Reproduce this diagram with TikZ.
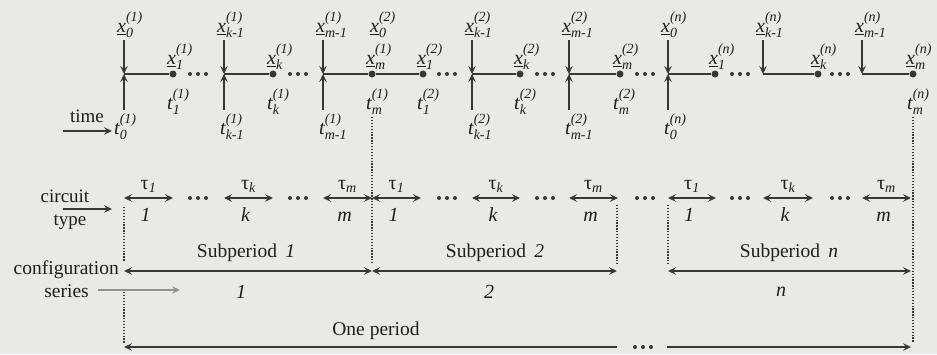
\documentclass[tikz,border=0pt]{standalone}
\usepackage{fontspec}
\usepackage{amsmath}
\setmainfont{Liberation Serif}
\usetikzlibrary{arrows.meta}
\definecolor{bg}{RGB}{233,233,231}
\definecolor{ink}{RGB}{55,55,55}
\definecolor{txt}{RGB}{30,30,30}
\newcommand\xlab[3]{$\underline{\text{\itshape #1}}_{\text{\itshape #2}}^{\raisebox{3pt}{$\scriptstyle\text{\itshape(#3)}$}}$}
\newcommand\tlab[3]{$\text{\itshape #1}_{\text{\itshape #2}}^{\raisebox{3pt}{$\scriptstyle\text{\itshape(#3)}$}}$}
\newcommand\taul[1]{$\text{τ}_{\text{\itshape #1}}$}
\tikzset{
  arr/.style={draw=ink, line width=1.6pt, -{Stealth[length=8pt,width=7.5pt,inset=3pt]}},
  darr/.style={draw=ink, line width=1.6pt, {Stealth[length=8pt,width=7.5pt,inset=3pt]}-{Stealth[length=8pt,width=7.5pt,inset=3pt]}},
  seg/.style={draw=ink, line width=1.6pt},
  dotl/.style={draw=ink, line width=1.3pt, dash pattern=on 1.3pt off 1.6pt},
  lab/.style={anchor=base west, inner sep=0pt, text=txt, font=\fontsize{20}{22}\selectfont},
  word/.style={inner sep=0pt, text=txt, font=\fontsize{19.5}{21}\selectfont},
  cword/.style={inner sep=0pt, text=txt, font=\fontsize{19}{21}\selectfont},
  dotn/.style={circle, fill=ink, inner sep=0pt, minimum size=7pt},
}
\begin{document}
\begin{tikzpicture}[x=1pt,y=-1pt]
\fill[bg] (0,0) rectangle (937,354);
\useasboundingbox (0,0) rectangle (937,354);

% junctions with vertical arrows
\foreach \n/\x in {1/124,2/224,3/323,4/472,5/569,6/668,7/763,8/862}{
  \coordinate (v\n) at (\x,74);
  \coordinate (vt\n) at (\x,40);
}
\foreach \n/\x in {1/124,2/224,3/323,4/472,5/569,6/668}{
  \coordinate (vb\n) at (\x,110);
}
% dots
\foreach \n/\x in {1/173,2/273,3/372,4/423,5/520,6/620,7/715,8/818,9/913}{
  \node[dotn] (d\n) at (\x,74) {};
}
% horizontal segments
\draw[seg] (v1) -- (d1);
\draw[seg] (v2) -- (d2);
\draw[seg] (v3) -- (d3) -- (d4);
\draw[seg] (v4) -- (d5);
\draw[seg] (v5) -- (d6);
\draw[seg] (v6) -- (d7);
\draw[seg] (v7) -- (d8);
\draw[seg] (v8) -- (d9);
% vertical arrows
\foreach \n in {1,...,8}{ \draw[arr] (vt\n) -- (v\n); }
\foreach \n in {1,...,6}{ \draw[arr] (vb\n) -- (v\n); }
% ellipses on the time line
\foreach \x in {198,298,447,545,645,740,840}{
  \fill[ink] ({\x-8},74) circle (2) (\x,74) circle (2) ({\x+8},74) circle (2);
}

% x labels above verticals
\node[lab] (lx01) at (117,32) {\xlab{x}{0}{1}};
\node[lab] (lxk1) at (217,32) {\xlab{x}{k-1}{1}};
\node[lab] (lxm1) at (316,32) {\xlab{x}{m-1}{1}};
\node[lab] (lx02) at (370,32) {\xlab{x}{0}{2}};
\node[lab] (lxk2) at (465,32) {\xlab{x}{k-1}{2}};
\node[lab] (lxm2) at (562,32) {\xlab{x}{m-1}{2}};
\node[lab] (lx0n) at (661,32) {\xlab{x}{0}{n}};
\node[lab] (lxkn) at (756,32) {\xlab{x}{k-1}{n}};
\node[lab] (lxmn) at (855,32) {\xlab{x}{m-1}{n}};
% x labels above dots
\node[lab] (lx11) at (167,64) {\xlab{x}{1}{1}};
\node[lab] (lxk1b) at (267,64) {\xlab{x}{k}{1}};
\node[lab] (lxm1b) at (366,64) {\xlab{x}{m}{1}};
\node[lab] (lx12) at (417,64) {\xlab{x}{1}{2}};
\node[lab] (lxk2b) at (514,64) {\xlab{x}{k}{2}};
\node[lab] (lxm2b) at (613,64) {\xlab{x}{m}{2}};
\node[lab] (lx1n) at (709,64) {\xlab{x}{1}{n}};
\node[lab] (lxknb) at (811,64) {\xlab{x}{k}{n}};
\node[lab] (lxmnb) at (906,64) {\xlab{x}{m}{n}};
% t labels under dots
\node[lab] (t11) at (167,109) {\tlab{t}{1}{1}};
\node[lab] (tk1) at (267,109) {\tlab{t}{k}{1}};
\node[lab] (tm1) at (366,109) {\tlab{t}{m}{1}};
\node[lab] (t12) at (417,109) {\tlab{t}{1}{2}};
\node[lab] (tk2) at (514,109) {\tlab{t}{k}{2}};
\node[lab] (tm2) at (613,109) {\tlab{t}{m}{2}};
\node[lab] (tmn) at (907,109) {\tlab{t}{m}{n}};
% t labels under verticals
\node[lab] (t01) at (114,134) {\tlab{t}{0}{1}};
\node[lab] (tkm1) at (220,134) {\tlab{t}{k-1}{1}};
\node[lab] (tmm1) at (319,134) {\tlab{t}{m-1}{1}};
\node[lab] (tkm2) at (468,134) {\tlab{t}{k-1}{2}};
\node[lab] (tmm2) at (565,134) {\tlab{t}{m-1}{2}};
\node[lab] (t0n) at (664,134) {\tlab{t}{0}{n}};

% time
\node[cword] (time) at (87,116) {time};
\coordinate (timeA) at (63,131);
\coordinate (timeB) at (112,131);
\draw[arr] (timeA) -- (timeB);

% circuit type
\node[cword] (circ) at (65,196) {circuit};
\node[cword] (type) at (70,222) {type};
\coordinate (ctA) at (63,209);
\coordinate (ctB) at (112,209);
\draw[arr] (ctA) -- (ctB);

% tau arrows
\foreach \n/\a/\b/\t/\c in {1/124/173/1/1,2/224/273/k/k,3/323/372/m/m,4/372/421/1/1,5/472/520/k/k,6/569/618/m/m,7/668/716/1/1,8/763/813/k/k,9/862/911/m/m}{
  \coordinate (ta\n) at (\a,198);
  \coordinate (tb\n) at (\b,198);
  \draw[darr] (ta\n) -- (tb\n);
  \node[word, anchor=base, font=\fontsize{20}{22}\selectfont] (tau\n) at ({(\a+\b)/2},189) {\taul{\t}};
  \node[word, anchor=base, font=\fontsize{20}{22}\selectfont\itshape] (ct\n) at ({(\a+\b)/2-3},221) {\c};
}
\foreach \x in {198,298,447,545,645,740,840}{
  \fill[ink] ({\x-8},198) circle (2) (\x,198) circle (2) ({\x+8},198) circle (2);
}

% dotted verticals
\coordinate (p1a) at (124,207); \coordinate (p1b) at (124,262);
\coordinate (p1c) at (124,292); \coordinate (p1d) at (124,343);
\draw[dotl] (p1a) -- (p1b);
\draw[dotl] (p1c) -- (p1d);
\coordinate (p2a) at (372,117); \coordinate (p2b) at (372,264);
\draw[dotl] (p2a) -- (p2b);
\coordinate (p3a) at (617,205); \coordinate (p3b) at (617,264);
\draw[dotl] (p3a) -- (p3b);
\coordinate (p4a) at (668,205); \coordinate (p4b) at (668,264);
\draw[dotl] (p4a) -- (p4b);
\coordinate (p5a) at (913,117); \coordinate (p5b) at (913,343);
\draw[dotl] (p5a) -- (p5b);

% subperiods
\coordinate (s1a) at (124,271); \coordinate (s1b) at (372,271);
\coordinate (s2a) at (372,271); \coordinate (s2b) at (617,271);
\coordinate (s3a) at (668,271); \coordinate (s3b) at (911,271);
\draw[darr] (s1a) -- (s1b);
\draw[darr] (s2a) -- (s2b);
\draw[darr] (s3a) -- (s3b);
\node[word] (sp1) at (246,253) {Subperiod\, \textit{1}};
\node[word] (sp2) at (495,253) {Subperiod\, \textit{2}};
\node[word] (spn) at (789,253) {Subperiod\, \textit{n}};
\node[word, font=\fontsize{20}{22}\selectfont\itshape] (c1) at (241,292) {1};
\node[word, font=\fontsize{20}{22}\selectfont\itshape] (c2) at (489,292) {2};
\node[word, font=\fontsize{20}{22}\selectfont\itshape] (cn) at (781,292) {n};

% configuration series
\node[word, anchor=east] (conf) at (119,270) {configuration};
\node[word, anchor=east] (ser) at (89,291) {series};
\coordinate (serA) at (98,290);
\coordinate (serB) at (180,290);
\draw[arr, draw=ink!55] (serA) -- (serB);

% one period
\node[word] (oneper) at (376,331) {One period};
\coordinate (opA) at (124,347); \coordinate (opB) at (617,347);
\coordinate (opC) at (667,347); \coordinate (opD) at (911,347);
\draw[arr] (opB) -- (opA);
\draw[arr] (opC) -- (opD);
\fill[ink] (635,347) circle (2) (643,347) circle (2) (651,347) circle (2);
\end{tikzpicture}
\end{document}
